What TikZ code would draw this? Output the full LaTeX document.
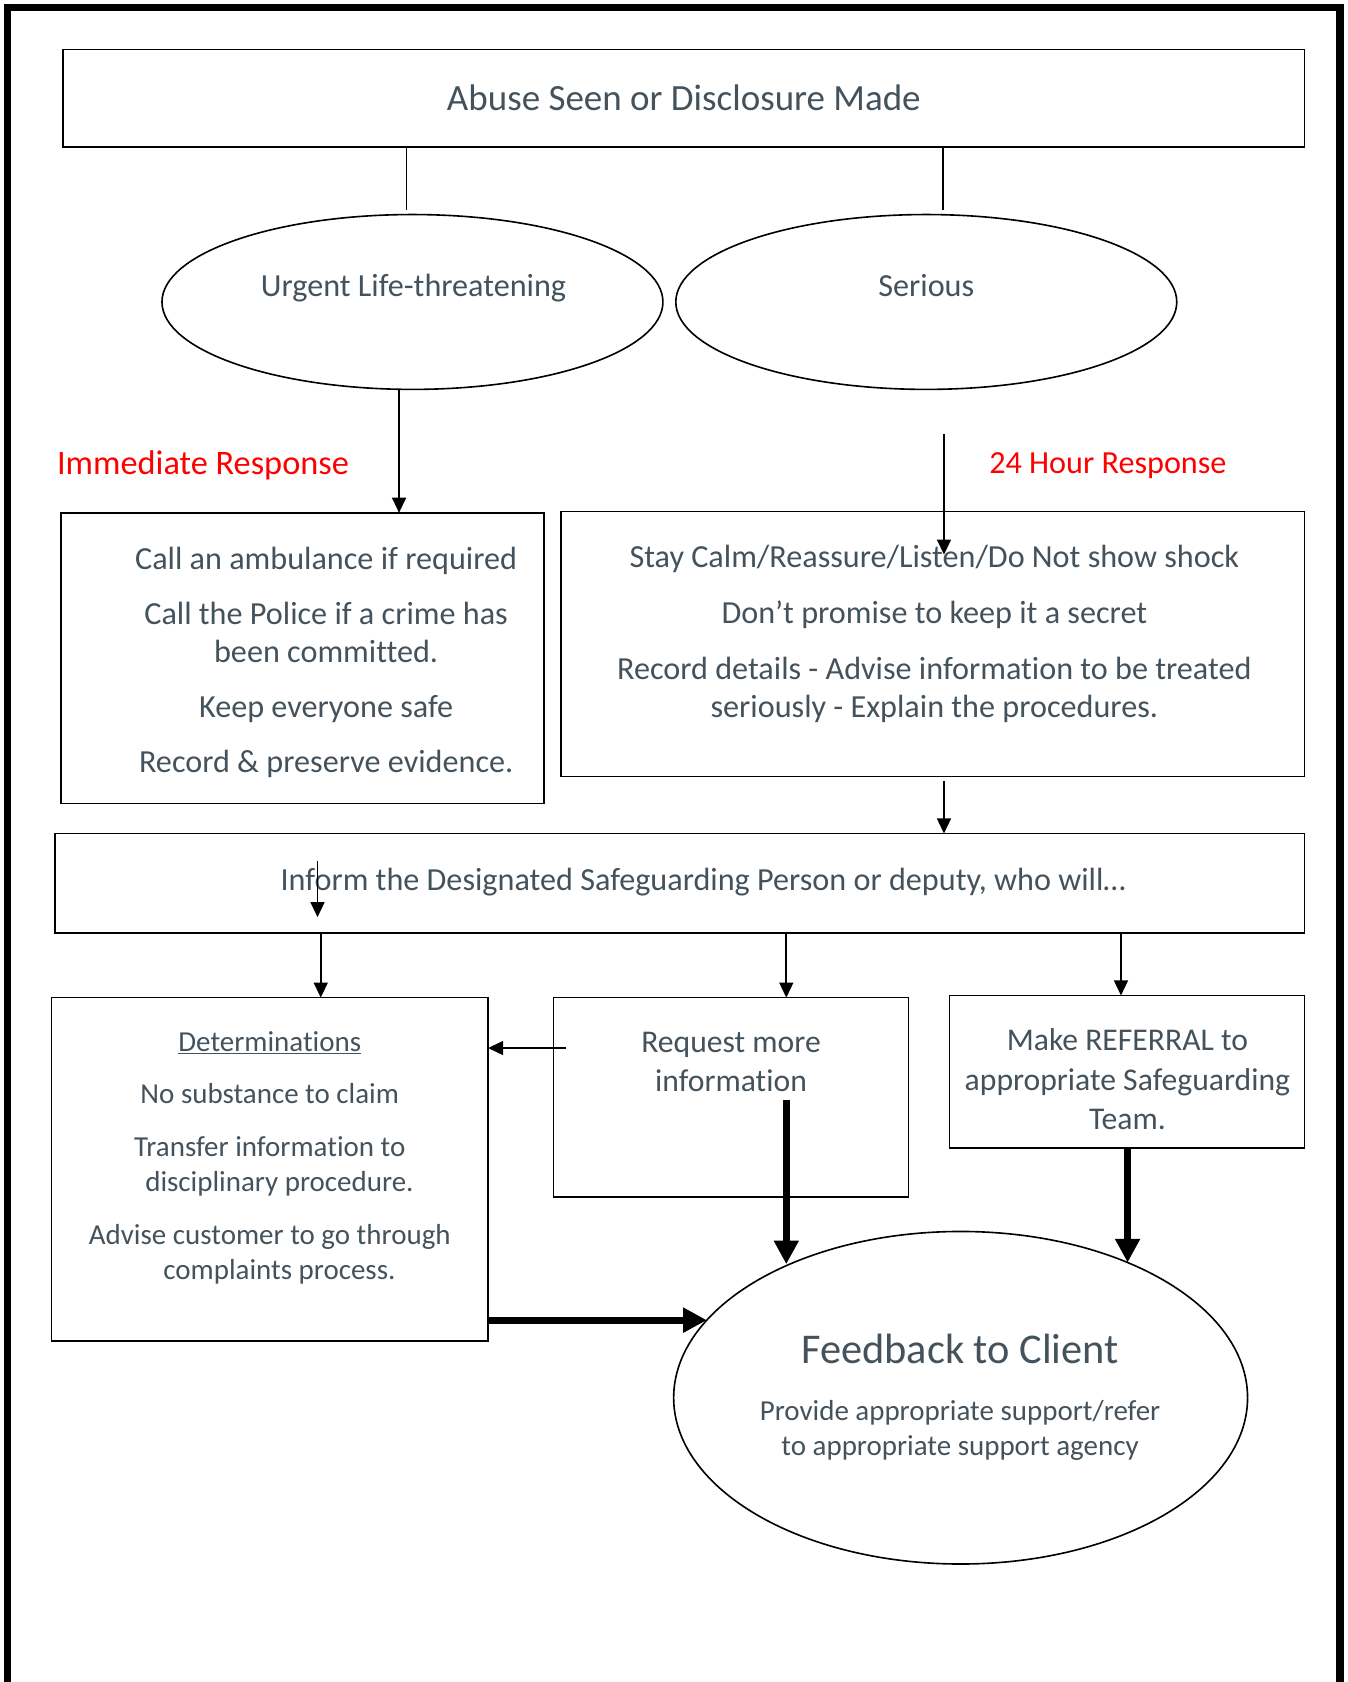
\documentclass[tikz,border=0pt]{standalone}
\usepackage{fontspec}
\setmainfont{Carlito}[Ligatures={CommonOff}]
\usetikzlibrary{shapes.geometric,arrows.meta}
\definecolor{txt}{HTML}{44525C}
\begin{document}
\begin{tikzpicture}[x=1pt,y=-1pt,
  box/.style={draw,line width=1.5pt,inner sep=0pt,outer sep=0pt,anchor=north west},
  oval/.style={draw,ellipse,line width=1.5pt,inner sep=0pt,outer sep=0pt},
  lbl/.style={text=txt,inner sep=0pt,align=center},
  fa/.style={font=\fontsize{30}{36}\selectfont},
  fb/.style={font=\fontsize{27}{33}\selectfont},
  fc/.style={font=\fontsize{29.5}{36.5}\selectfont},
  resp/.style={text=red,inner sep=0pt,anchor=base west},
  plain/.style={line width=1.5pt},
  arr/.style={line width=1.5pt,-{Triangle[length=14pt,width=13pt]}},
  bigarr/.style={line width=6.5pt,-{Triangle[length=22pt,width=22pt]}}
]
\useasboundingbox (0,0) rectangle (1256,1568);
% outer frame
\draw[line width=7pt] (7,1590) -- (7,7) -- (1249,7) -- (1249,1590);

% boxes
\node[box,minimum width=1157pt,minimum height=91pt,text=txt,font=\fontsize{34.5}{41}\selectfont] (top) at (59,46) {Abuse Seen or Disclosure Made};
\node[oval,minimum width=467pt,minimum height=163pt] (urg) at (384.5,281.5) {};
\node[oval,minimum width=467pt,minimum height=163pt] (sers) at (863.5,281.5) {};
\node[box,minimum width=450pt,minimum height=271pt] (call) at (57,478) {};
\node[box,minimum width=693pt,minimum height=247pt] (ser) at (523,477) {};
\node[box,minimum width=1165pt,minimum height=93pt] (inform) at (51,777) {};
\node[box,minimum width=407pt,minimum height=320pt] (det) at (48,930) {};
\node[box,minimum width=331pt,minimum height=186pt] (req) at (516,930) {};
\node[box,minimum width=331pt,minimum height=142pt] (make) at (885,928) {};
\node[oval,minimum width=535pt,minimum height=310pt] (fbk) at (895.5,1303) {};

% texts
\node[lbl,fa,anchor=base] (urgT) at (385.5,276) {Urgent Life-threatening};
\node[lbl,fa,anchor=base] (serT) at (863.5,276) {Serious};
\node[resp,font=\fontsize{32}{38}\selectfont] (immT) at (53,442) {Immediate Response};
\node[resp,font=\fontsize{30}{36}\selectfont] (hT) at (922,441) {24 Hour Response};
\node[lbl,fa,anchor=north] (callT) at (304,510) {Call an ambulance if required\\[15pt]Call the Police if a crime has\\been committed.\\[15pt]Keep everyone safe\\[15pt]Record \& preserve evidence.};
\node[lbl,fa,anchor=north] (serBT) at (871,508) {Stay Calm/Reassure/Listen/Do Not show shock\\[16pt]Don’t promise to keep it a secret\\[16pt]Record details - Advise information to be treated\\seriously - Explain the procedures.};
\node[lbl,fa,anchor=base] (infT) at (655.5,830) {Inform the Designated Safeguarding Person or deputy, who will…};
\node[lbl,fb,anchor=north] (detT) at (251.5,961) {\underline{Determinations}\\[16pt]No substance to claim\\[16pt]Transfer information to\\\hspace*{18pt}disciplinary procedure.\\[16pt]Advise customer to go through\\\hspace*{18pt}complaints process.};
\node[lbl,fc,anchor=north] (reqT) at (681.5,962) {Request more\\information};
\node[lbl,fc,anchor=north] (makeT) at (1051,959) {Make REFERRAL to\\appropriate Safeguarding\\Team.};
\node[lbl,font=\fontsize{39.5}{47}\selectfont,anchor=base] (fbT1) at (895,1271) {Feedback to Client};
\node[lbl,fb,anchor=north] (fbT2) at (895,1305) {Provide appropriate support/refer\\to appropriate support agency};

% connectors
\coordinate (u0) at ([xshift=-5.5pt]urg.north);
\draw[plain] (u0 |- top.south) -- ([yshift=4pt]u0);
\coordinate (s0) at ([xshift=15.5pt]sers.north);
\draw[plain] (s0 |- top.south) -- ([yshift=4pt]s0);
\coordinate (u1) at ([xshift=-12.5pt]urg.south);
\draw[arr] (u1) -- (u1 |- call.north);
\coordinate (a0) at (880,405);
\coordinate (a1) at (880,517);
\draw[arr] (a0) -- (a1);
\coordinate (a2) at (880,728);
\draw[arr] (a2) -- (a2 |- inform.north);
\coordinate (i0) at (296,803);
\coordinate (i1) at (296,855);
\draw[arr] (i0) -- (i1);
\coordinate (x1) at (299,0);
\coordinate (x2) at (733,0);
\coordinate (x3) at (1045,0);
\draw[arr] (x1 |- inform.south) -- (x1 |- det.north);
\draw[arr] (x2 |- inform.south) -- (x2 |- req.north);
\draw[arr] (x3 |- inform.south) -- (x3 |- make.north);
\coordinate (r0) at (528,977);
\draw[arr] (r0) -- (r0 -| det.east);
\coordinate (r1) at (733,1025);
\draw[bigarr] (r1) -- (r1 |- fbk.142.9);
\draw[bigarr] (fbk.39.3 |- make.south) -- (fbk.39.3);
\draw[bigarr] (det.east |- fbk.163.4) -- (fbk.163.4);
\end{tikzpicture}
\end{document}
